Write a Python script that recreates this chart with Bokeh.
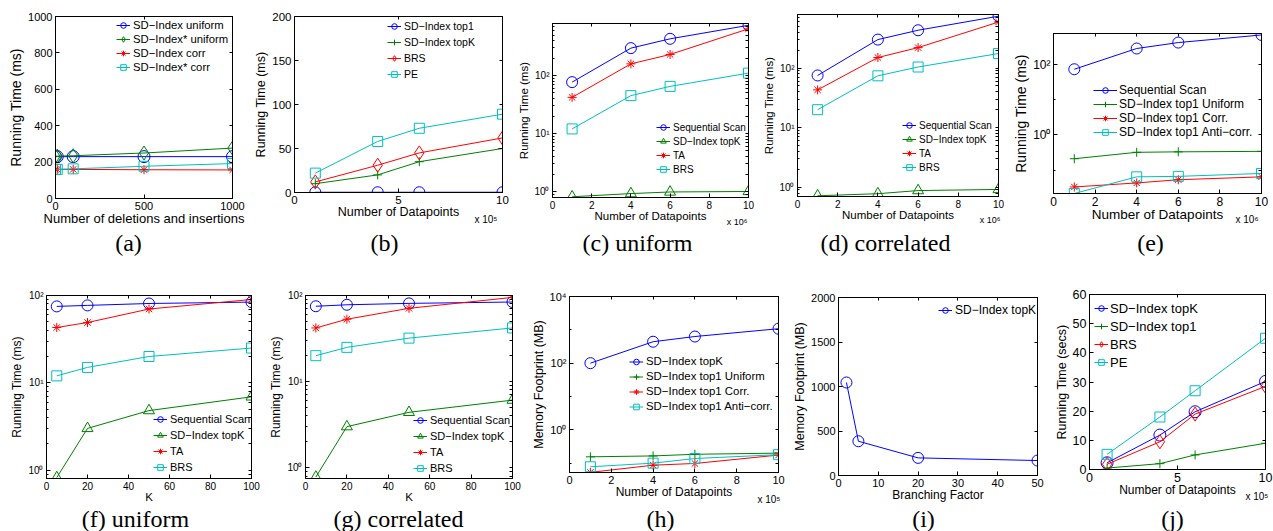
from bokeh.plotting import figure
from bokeh.models import (Range1d, FixedTicker, CustomJSTickFormatter, Legend, LegendItem,
                          Label, LinearAxis, LogAxis, Title)
from bokeh.layouts import row, column
from bokeh.embed import file_html
from bokeh.resources import INLINE

SD = "SD\u2212Index"
BLUE, GREEN, RED, CYAN = "#0000ff", "#008000", "#ff0000", "#00bfbf"
SANS = "Liberation Sans"
SERIF = "Liberation Serif"

# ---------------- data ----------------
a_x = [0, 10, 100, 500, 1000]
a_sd_uniform = [230, 230, 230, 230, 230]
a_sdstar_uniform = [232, 233, 235, 250, 277]
a_sd_corr = [160, 160, 160, 158, 157]
a_sdstar_corr = [160, 160, 163, 177, 192]

b_x = [1, 4, 6, 10]
b_top1 = [0.3, 0.3, 0.3, 0.3]
b_topk = [10, 20, 35, 50]
b_brs = [12, 31, 45, 62]
b_pe = [22, 58, 73, 89]

c_x = [1, 4, 6, 10]
c_seq = [77, 297, 430, 735]
c_topk = [0.81, 0.92, 0.98, 1.0]
c_ta = [42, 159, 231, 640]
c_brs = [12, 45, 65, 110]

d_x = [1, 4, 6, 10]
d_seq = [75, 300, 430, 740]
d_topk = [0.72, 0.78, 0.88, 0.92]
d_ta = [43, 150, 220, 590]
d_brs = [20, 74, 104, 175]

e_x = [1, 4, 6, 10]
e_seq = [74, 288, 425, 700]
e_uni = [0.21, 0.32, 0.33, 0.34]
e_corr = [0.033, 0.043, 0.053, 0.064]
e_anti = [0.0215, 0.064, 0.066, 0.080]

f_x = [5, 20, 50, 100]
f_seq = [75, 77, 81, 84]
f_topk = [0.82, 3.0, 4.8, 6.9]
f_ta = [43, 49, 70, 90]
f_brs = [12, 15, 20, 25]

g_x = [5, 20, 50, 100]
g_seq = [75, 78, 81, 84]
g_topk = [0.78, 3.0, 4.4, 6.1]
g_ta = [42, 53, 71, 95]
g_brs = [20, 25, 32, 42]

h_x = [1, 4, 6, 10]
h_topk = [100, 440, 630, 1080]
h_uni = [0.155, 0.165, 0.185, 0.2]
h_corr = [0.053, 0.087, 0.098, 0.175]
h_anti = [0.078, 0.1, 0.138, 0.18]

i_x = [2, 5, 20, 50]
i_topk = [1045, 385, 198, 168]

j_x = [1, 4, 6, 10]
j_topk = [2.3, 11.8, 19.8, 30.2]
j_top1 = [0.5, 2, 5, 9]
j_brs = [1.8, 9.5, 19, 28.5]
j_pe = [5.2, 18, 27, 45]

captions_top = ["(a)", "(b)", "(c) uniform", "(d) correlated", "(e)"]
captions_bottom = ["(f) uniform", "(g) correlated", "(h)", "(i)", "(j)"]

LOG_JS = """
const s = {"-": "\u207b", "0": "\u2070", "1": "\u00b9", "2": "\u00b2", "3": "\u00b3", "4": "\u2074", "5": "\u2075", "6": "\u2076", "7": "\u2077", "8": "\u2078", "9": "\u2079"};
const e = Math.round(Math.log10(tick));
return "10" + String(e).split("").map(c => s[c]).join("");
"""

EM = 1.15  # text box height / font size


def log_minors(lo, hi):
    out = []
    for e in range(-3, 5):
        for k in range(2, 10):
            v = k * 10 ** e
            if lo <= v <= hi:
                out.append(v)
    return out


def style_axis(ax, fs, log, lab_fs, lab_so):
    ax.major_tick_in = 4
    ax.major_tick_out = 0
    ax.minor_tick_out = 0
    ax.minor_tick_in = 2 if log else 0
    if not log:
        ax.minor_tick_line_color = None
    ax.major_tick_line_color = "black"
    ax.axis_line_color = "black"
    ax.major_label_text_font = SANS
    ax.major_label_text_font_size = f"{fs}px"
    ax.major_label_text_color = "black"
    ax.major_label_standoff = 3
    ax.axis_label_text_font = SANS
    ax.axis_label_text_font_size = f"{lab_fs}px"
    ax.axis_label_text_font_style = "normal"
    ax.axis_label_text_color = "black"
    ax.axis_label_standoff = lab_so


def no_align(p):
    try:
        p.frame_align = False
    except Exception:
        pass


def make_fig(fig_box, frame_box, xr, yr, xt, yt, ylog=False, yminor=None, tfs=11,
             xlab="", ylab="", xlfs=12.5, ylfs=13, xls=-2, yls=1):
    x0, x1, y0, y1 = fig_box
    L, R, T, B = frame_box
    w, h = x1 - x0, y1 - y0
    p = figure(width=w, height=h, output_backend="svg", toolbar_location=None,
               x_range=Range1d(*xr), y_range=Range1d(*yr),
               y_axis_type="log" if ylog else "linear",
               min_border_left=L - x0, min_border_right=x1 - R,
               min_border_top=T - y0, min_border_bottom=y1 - B)
    no_align(p)
    p.outline_line_color = "black"
    p.outline_line_alpha = 1
    p.outline_line_width = 1
    p.background_fill_color = "white"
    p.border_fill_color = "white"
    p.xgrid.visible = False
    p.ygrid.visible = False
    xa = p.below[0]
    ya = p.left[0]
    xa.ticker = FixedTicker(ticks=xt)
    ya.ticker = FixedTicker(ticks=yt, minor_ticks=yminor or [])
    if ylog:
        ya.formatter = CustomJSTickFormatter(code=LOG_JS)
    xa.axis_label = xlab
    ya.axis_label = ylab
    style_axis(xa, tfs, False, xlfs, xls)
    style_axis(ya, tfs, ylog, ylfs, yls)
    # mirrored tick marks on top / right (tick marks only, no labels)
    top = LinearAxis(ticker=FixedTicker(ticks=[], minor_ticks=list(xt)))
    right = (LogAxis if ylog else LinearAxis)(
        ticker=FixedTicker(ticks=[], minor_ticks=list(yt) + list(yminor or [])))
    for ax in (top, right):
        ax.major_tick_in = 0
        ax.major_tick_out = 0
        ax.minor_tick_in = 3
        ax.minor_tick_out = 0
        ax.minor_tick_line_color = "black"
        ax.axis_line_color = "black"
        ax.major_label_standoff = 0
    p.add_layout(top, "above")
    p.add_layout(right, "right")
    p._box = (L, R, T, B)
    p._xext = 3 + EM * tfs + xls + EM * xlfs
    return p


def series(p, x, y, color, marker, size):
    lr = p.line(x, y, line_color=color, line_width=1)
    sr = p.scatter(x, y, marker=marker, size=size, line_color=color, fill_color=None, line_width=1)
    return [lr, sr]


def add_legend(p, entries, tx, y1, pitch, fs, gw=14, ls=3):
    L, R, T, B = p._box
    n = len(entries)
    gh = int(round(pitch))
    total = n * gh
    top = (y1 - T) - gh / 2
    loc = (tx - L - gw - ls, (B - T) - (top + total))
    items = [LegendItem(label=lab, renderers=rs) for lab, rs in entries]
    lg = Legend(items=items, location=loc, orientation="vertical", padding=0, margin=0,
                spacing=0, glyph_width=gw, glyph_height=gh, label_height=gh, label_width=10,
                label_standoff=ls, label_text_font=SANS, label_text_font_size=f"{fs}px",
                label_text_color="black", border_line_alpha=0, background_fill_alpha=0)
    p.add_layout(lg, "center")


def add_x10(p, text, right_x, yc, fs=10):
    L, R, T, B = p._box
    s = int(round(2 * ((yc - 0.55 * fs) - (B + p._xext))))
    t = Title(text=text, align="right", vertical_align="top", offset=R - right_x,
              text_font=SANS, text_font_size=f"{fs}px", text_font_style="normal",
              text_color="black")
    try:
        t.standoff = s
    except Exception:
        t.standoff = 0
    p.add_layout(t, "below")


def caption_strip(y0, y1, texts, centers, yc, fs=24):
    h = y1 - y0
    p = figure(width=1273, height=h, output_backend="svg", toolbar_location=None,
               x_range=Range1d(0, 1273), y_range=Range1d(0, h),
               x_axis_type=None, y_axis_type=None, min_border=0)
    no_align(p)
    p.outline_line_color = None
    p.background_fill_color = "white"
    p.border_fill_color = "white"
    p.xgrid.visible = False
    p.ygrid.visible = False
    for t, cx in zip(texts, centers):
        p.add_layout(Label(x=cx, y=y1 - yc, x_units="screen", y_units="screen", text=t,
                           text_font=SERIF, text_font_size=f"{fs}px", text_align="center",
                           text_baseline="middle", text_color="black"))
    return p


R1 = (0, 228)
R2 = (258, 505)

# (a)
pa = make_fig((0, 251) + R1, (55, 232, 16, 199), (0, 1000), (0, 1000), [0, 500, 1000],
              [0, 200, 400, 600, 800, 1000], tfs=11,
              xlab="Number of deletions and insertions", ylab="Running Time (ms)", xlfs=13, ylfs=14)
ra1 = series(pa, a_x, a_sd_uniform, BLUE, "circle", 12)
ra2 = series(pa, a_x, a_sdstar_uniform, GREEN, "diamond", 14)
ra3 = series(pa, a_x, a_sd_corr, RED, "asterisk", 9)
ra4 = series(pa, a_x, a_sdstar_corr, CYAN, "square", 10)
add_legend(pa, [(SD + " uniform", ra1), (SD + "* uniform", ra2), (SD + " corr", ra3),
                (SD + "* corr", ra4)], 133, 26, 14, 11.3)

# (b)
pb = make_fig((251, 512) + R1, (294, 502, 16, 192), (0, 10), (0, 200), [0, 5, 10],
              [0, 50, 100, 150, 200], tfs=11.5,
              xlab="Number of Datapoints", ylab="Running Time (ms)", xlfs=12.5, ylfs=12.5)
rb1 = series(pb, b_x, b_top1, BLUE, "circle", 11)
rb2 = series(pb, b_x, b_topk, GREEN, "cross", 9)
rb3 = series(pb, b_x, b_brs, RED, "diamond", 14)
rb4 = series(pb, b_x, b_pe, CYAN, "square", 10)
add_legend(pb, [(SD + " top1", rb1), (SD + " topK", rb2), ("BRS", rb3), ("PE", rb4)],
           404, 26, 16, 10.5)
add_x10(pb, "x 10\u2075", 497, 218)

# (c)
pc = make_fig((512, 760) + R1, (552, 748, 23, 197), (0, 10), (0.787, 790), [0, 2, 4, 6, 8, 10],
              [1, 10, 100], ylog=True, yminor=log_minors(0.787, 790), tfs=10,
              xlab="Number of Datapoints", ylab="Running Time (ms)", xlfs=11.5, ylfs=11.5)
rc1 = series(pc, c_x, c_seq, BLUE, "circle", 11)
rc2 = series(pc, c_x, c_topk, GREEN, "triangle", 11)
rc3 = series(pc, c_x, c_ta, RED, "asterisk", 9)
rc4 = series(pc, c_x, c_brs, CYAN, "square", 10)
add_legend(pc, [("Sequential Scan", rc1), (SD + " topK", rc2), ("TA", rc3), ("BRS", rc4)],
           673, 127, 14, 10)
add_x10(pc, "x 10\u2076", 747, 220, 9)

# (d)
pd = make_fig((760, 1010) + R1, (796, 998, 14, 196), (0, 10), (0.70, 790), [0, 2, 4, 6, 8, 10],
              [1, 10, 100], ylog=True, yminor=log_minors(0.70, 790), tfs=10,
              xlab="Number of Datapoints", ylab="Running Time (ms)", xlfs=11.5, ylfs=11.5)
rd1 = series(pd, d_x, d_seq, BLUE, "circle", 11)
rd2 = series(pd, d_x, d_topk, GREEN, "triangle", 11)
rd3 = series(pd, d_x, d_ta, RED, "asterisk", 9)
rd4 = series(pd, d_x, d_brs, CYAN, "square", 10)
add_legend(pd, [("Sequential Scan", rd1), (SD + " topK", rd2), ("TA", rd3), ("BRS", rd4)],
           918, 125, 14, 10)
add_x10(pd, "x 10\u2076", 1000, 218, 9)

# (e)
pe = make_fig((1010, 1273) + R1, (1052, 1261, 33, 193), (0, 10), (0.0215, 770),
              [0, 2, 4, 6, 8, 10], [1, 100], ylog=True, yminor=[0.1, 10], tfs=12,
              xlab="Number of Datapoints", ylab="Running Time (ms)", xlfs=13.5, ylfs=14)
re1 = series(pe, e_x, e_seq, BLUE, "circle", 11)
re2 = series(pe, e_x, e_uni, GREEN, "cross", 9)
re3 = series(pe, e_x, e_corr, RED, "asterisk", 9)
re4 = series(pe, e_x, e_anti, CYAN, "square", 10)
add_legend(pe, [("Sequential Scan", re1), (SD + " top1 Uniform", re2),
                (SD + " top1 Corr.", re3), (SD + " top1 Anti\u2212corr.", re4)],
           1118, 90, 14, 12, gw=24, ls=2)
add_x10(pe, "x 10\u2076", 1258, 218)

# (f)
pf = make_fig((0, 266) + R2, (46, 251, 295, 478), (0, 100), (0.8, 100), [0, 20, 40, 60, 80, 100],
              [1, 10, 100], ylog=True, yminor=log_minors(0.8, 100), tfs=10,
              xlab="K", ylab="Running Time (ms)", xlfs=11.5, ylfs=12)
rf1 = series(pf, f_x, f_seq, BLUE, "circle", 11)
rf2 = series(pf, f_x, f_topk, GREEN, "triangle", 11)
rf3 = series(pf, f_x, f_ta, RED, "asterisk", 9)
rf4 = series(pf, f_x, f_brs, CYAN, "square", 10)
add_legend(pf, [("Sequential Scan", rf1), (SD + " topK", rf2), ("TA", rf3), ("BRS", rf4)],
           170, 419, 16, 11)

# (g)
pg = make_fig((266, 527) + R2, (303, 512, 295, 479), (0, 100), (0.75, 100),
              [0, 20, 40, 60, 80, 100], [1, 10, 100], ylog=True, yminor=log_minors(0.75, 100),
              tfs=10, xlab="K", ylab="Running Time (ms)", xlfs=11.5, ylfs=12)
rg1 = series(pg, g_x, g_seq, BLUE, "circle", 11)
rg2 = series(pg, g_x, g_topk, GREEN, "triangle", 11)
rg3 = series(pg, g_x, g_ta, RED, "asterisk", 9)
rg4 = series(pg, g_x, g_brs, CYAN, "square", 10)
add_legend(pg, [("Sequential Scan", rg1), (SD + " topK", rg2), ("TA", rg3), ("BRS", rg4)],
           428, 421, 16, 11)

# (h)
ph = make_fig((527, 790) + R2, (569, 778, 296, 472), (0, 10), (0.0525, 10000),
              [0, 2, 4, 6, 8, 10], [1, 100, 10000], ylog=True, yminor=[0.1, 10, 1000], tfs=11,
              xlab="Number of Datapoints", ylab="Memory Footprint (MB)", xlfs=12, ylfs=12.5)
rh1 = series(ph, h_x, h_topk, BLUE, "circle", 11)
rh2 = series(ph, h_x, h_uni, GREEN, "cross", 9)
rh3 = series(ph, h_x, h_corr, RED, "asterisk", 9)
rh4 = series(ph, h_x, h_anti, CYAN, "square", 10)
add_legend(ph, [(SD + " topK", rh1), (SD + " top1 Uniform", rh2),
                (SD + " top1 Corr.", rh3), (SD + " top1 Anti\u2212corr.", rh4)],
           646, 361, 15, 11.4)
add_x10(ph, "x 10\u2075", 780, 497)

# (i)
pi = make_fig((790, 1051) + R2, (836, 1037, 297, 475), (0, 50), (0, 2000),
              [0, 10, 20, 30, 40, 50], [0, 500, 1000, 1500, 2000], tfs=11,
              xlab="Branching Factor", ylab="Memory Footprint (MB)", xlfs=12, ylfs=12.5)
ri1 = series(pi, i_x, i_topk, BLUE, "circle", 11)
add_legend(pi, [(SD + " topK", ri1)], 953, 310, 16, 12)

# (j)
pj = make_fig((1051, 1273) + R2, (1086, 1265, 294, 469), (0, 10), (0, 60), [0, 5, 10],
              [0, 10, 20, 30, 40, 50, 60], tfs=12.5,
              xlab="Number of Datapoints", ylab="Running Time (secs)", xlfs=12, ylfs=12.5)
rj1 = series(pj, j_x, j_topk, BLUE, "circle", 12)
rj2 = series(pj, j_x, j_top1, GREEN, "cross", 9)
rj3 = series(pj, j_x, j_brs, RED, "diamond", 14)
rj4 = series(pj, j_x, j_pe, CYAN, "square", 10)
add_legend(pj, [(SD + " topK", rj1), (SD + " top1", rj2), ("BRS", rj3), ("PE", rj4)],
           1107, 308, 18, 13, gw=14, ls=2)
add_x10(pj, "x 10\u2075", 1268, 495)

cap1 = caption_strip(228, 258, captions_top, [128, 384, 637, 885, 1150], 242)
cap2 = caption_strip(505, 531, captions_bottom, [135, 398, 660, 923, 1172], 518)

layout = column(row(pa, pb, pc, pd, pe), cap1, row(pf, pg, ph, pi, pj), cap2)
open("out.html", "w").write(file_html(layout, INLINE))
